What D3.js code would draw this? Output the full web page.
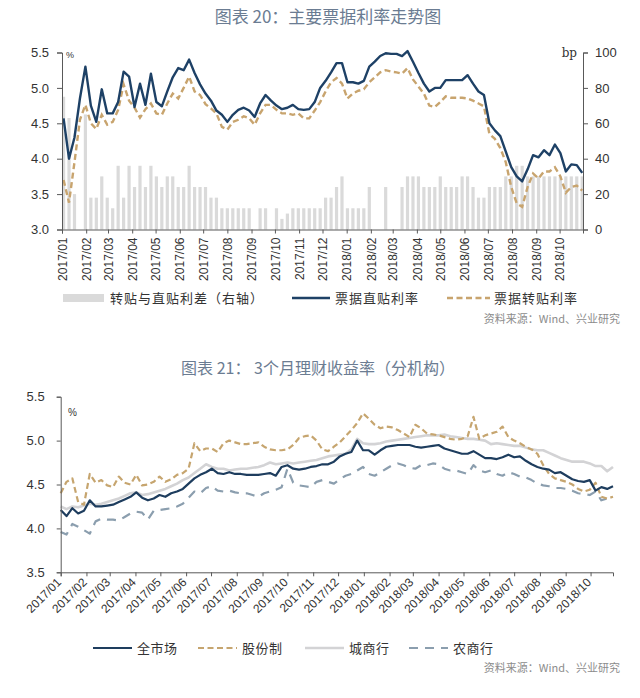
<!DOCTYPE html>
<html><head><meta charset="utf-8">
<script src="https://cdn.jsdelivr.net/npm/d3@7"></script>
<style>body{margin:0;background:#fff}svg{display:block}</style>
</head><body>
<svg id="c" width="640" height="698"></svg>
<script>
// ---------- DATA ----------
const monthLabels = ["2017/01","2017/02","2017/03","2017/04","2017/05","2017/06","2017/07","2017/08","2017/09","2017/10","2017/11","2017/12","2018/01","2018/02","2018/03","2018/04","2018/05","2018/06","2018/07","2018/08","2018/09","2018/10"];

// Chart 1: weekly observations starting 2017-01-03
const start1 = "2017-01-03";
const directRate = [4.57,4.0,4.3,4.85,5.3,4.75,4.52,4.98,4.64,4.64, 4.80,5.23,5.16,4.73,5.06,4.76,5.2,4.80,4.74,4.95, 5.15,5.28,5.25,5.4,5.21,5.05,4.92,4.82,4.68,4.62, 4.52,4.62,4.69,4.72,4.68,4.59,4.78,4.9,4.82,4.75, 4.7,4.72,4.76,4.7,4.69,4.7,4.8,5.0,5.1,5.22, 5.35,5.35,5.08,5.08,5.06,5.1,5.3,5.37,5.45,5.49, 5.48,5.48,5.45,5.52,5.37,5.21,5.06,4.95,5.0,5.0, 5.11,5.11,5.11,5.11,5.18,5.06,4.95,4.9,4.5,4.4, 4.32,4.1,3.88,3.75,3.68,3.85,4.05,4.02,4.12,4.05, 4.2,4.08,3.82,3.92,3.91,3.8];
const rediscRate = [3.7,3.38,3.95,4.55,4.76,4.5,4.42,4.62,4.48,4.52, 4.69,5.05,4.82,4.72,4.58,4.7,4.78,4.64,4.62,4.78, 4.92,4.85,5.0,5.16,4.95,4.9,4.77,4.71,4.64,4.45, 4.41,4.52,4.55,4.6,4.57,4.48,4.64,4.76,4.76,4.69, 4.64,4.64,4.62,4.64,4.57,4.57,4.68,4.8,4.95,5.08, 5.14,5.06,4.85,4.92,4.96,4.98,5.08,5.15,5.22,5.25, 5.23,5.22,5.2,5.28,5.12,5.02,4.92,4.75,4.73,4.8, 4.88,4.86,4.86,4.86,4.85,4.82,4.78,4.74,4.35,4.28, 4.15,3.95,3.6,3.37,3.32,3.6,3.79,3.72,3.82,3.82, 3.88,3.75,3.52,3.6,3.62,3.55];
const spreadBp = [75,63,20,0,65,18,18,30,18,12, 36,18,36,24,36,24,36,30,24,30, 30,24,24,36,24,24,24,18,18,12, 12,12,12,12,12,0,12,12,0,12, 6,9,12,12,12,12,12,12,18,18, 24,30,12,12,12,12,24,0,0,24, 0,0,24,30,30,30,24,24,24,30, 24,24,24,30,30,24,18,18,24,24, 24,30,30,36,36,30,30,30,30,30, 30,30,30,30,30,30];

// Chart 2: weekly observations starting 2017-01-01
const start2 = "2017-01-01";
const allMarket = [4.21,4.14,4.23,4.17,4.2,4.32,4.25,4.25,4.26,4.27, 4.3,4.33,4.36,4.41,4.35,4.32,4.34,4.38,4.36,4.4, 4.42,4.45,4.51,4.57,4.61,4.64,4.68,4.63,4.62,4.64, 4.62,4.62,4.61,4.61,4.61,4.62,4.63,4.6,4.7,4.72, 4.68,4.67,4.68,4.7,4.71,4.73,4.73,4.76,4.82,4.85, 4.87,5.0,4.89,4.89,4.84,4.89,4.93,4.94,4.95,4.95, 4.95,4.93,4.92,4.93,4.94,4.95,4.91,4.89,4.87,4.85, 4.85,4.88,4.84,4.8,4.8,4.79,4.81,4.84,4.81,4.82, 4.77,4.73,4.7,4.68,4.67,4.63,4.64,4.6,4.56,4.54, 4.53,4.55,4.43,4.47,4.45,4.48];
const jointStock = [4.4,4.53,4.57,4.3,4.27,4.62,4.52,4.55,4.49,4.47, 4.59,4.52,4.5,4.61,4.49,4.5,4.53,4.59,4.53,4.56, 4.61,4.63,4.68,4.97,4.88,4.91,4.91,4.87,4.97,5.0, 4.98,4.96,4.96,4.97,4.98,4.93,4.9,4.89,4.89,4.9, 4.95,5.03,5.05,5.06,5.0,4.9,4.88,4.93,4.98,5.05, 5.12,5.2,5.31,5.25,5.18,5.14,5.16,5.15,5.12,5.08, 5.04,5.18,5.14,5.08,5.07,5.06,5.04,5.02,5.01,5.02, 5.05,5.27,5.02,5.06,5.08,5.1,5.16,5.04,5.0,4.97, 4.93,4.9,4.85,4.72,4.62,4.57,4.55,4.53,4.5,4.45, 4.42,4.44,4.52,4.36,4.34,4.36];
const cityBank = [4.25,4.22,4.25,4.24,4.26,4.28,4.27,4.28,4.3,4.32, 4.34,4.37,4.4,4.41,4.38,4.39,4.41,4.43,4.45,4.48, 4.51,4.55,4.58,4.63,4.68,4.73,4.7,4.68,4.68,4.66, 4.67,4.68,4.68,4.69,4.7,4.72,4.75,4.73,4.74,4.75, 4.74,4.75,4.76,4.77,4.78,4.8,4.82,4.83,4.84,4.85, 4.9,5.02,4.97,4.96,4.96,4.97,4.99,5.0,5.01,5.02, 5.03,5.04,5.05,5.06,5.06,5.06,5.07,5.05,5.04,5.03, 5.02,5.02,5.01,5.0,4.96,4.97,4.96,4.95,4.94,4.94, 4.92,4.9,4.89,4.89,4.86,4.83,4.8,4.78,4.76,4.76, 4.76,4.74,4.71,4.71,4.65,4.7];
const ruralBank = [3.96,3.93,4.05,4.02,3.98,3.94,4.08,4.11,4.1,4.1, 4.09,4.13,4.17,4.19,4.18,4.1,4.2,4.21,4.22,4.23, 4.25,4.28,4.35,4.42,4.4,4.46,4.48,4.43,4.42,4.43, 4.41,4.4,4.4,4.38,4.36,4.4,4.42,4.44,4.47,4.68, 4.52,4.49,4.48,4.47,4.53,4.55,4.53,4.51,4.56,4.6, 4.62,4.66,4.7,4.62,4.6,4.64,4.68,4.72,4.74,4.72, 4.69,4.68,4.72,4.72,4.74,4.73,4.68,4.66,4.66,4.64, 4.62,4.72,4.66,4.64,4.66,4.62,4.6,4.64,4.62,4.59, 4.58,4.55,4.51,4.49,4.48,4.46,4.46,4.45,4.43,4.4, 4.39,4.38,4.42,4.32,4.34,4.36];

const yTicks1 = [3.0,3.5,4.0,4.5,5.0,5.5];
const yTicksR = [0,20,40,60,80,100];
const yTicks2 = [3.5,4.0,4.5,5.0,5.5];

// ---------- HELPERS ----------
const parseDay = d3.timeParse("%Y-%m-%d");
const parseMonth = d3.timeParse("%Y/%m");
const fmtMonth = d3.timeFormat("%Y/%m");
const monthDates = monthLabels.map(parseMonth);
const weekly = (s, n) => d3.range(n).map(i => d3.timeDay.offset(parseDay(s), 7 * i));
const dates1 = weekly(start1, directRate.length);
const dates2 = weekly(start2, allMarket.length);

const svg = d3.select("#c");
const LAT = "'Liberation Sans', Arial, sans-serif";
const CJK = "'Noto Sans CJK SC', 'Noto Sans', sans-serif";
const AXC = "#595959";

function styleAxis(g, fs) {
  g.select(".domain").attr("stroke", AXC);
  g.selectAll(".tick line").attr("stroke", AXC);
  g.selectAll("text").attr("fill", "#333").style("font-family", LAT).style("font-size", fs + "px");
}

// ---------- CHART 1 ----------
svg.append("text").attr("x", 328).attr("y", 23).attr("text-anchor", "middle")
  .style("font-family", CJK).style("font-size", "17px").attr("fill", "#6b7c92")
  .text("图表 20：主要票据利率走势图");

const x1 = d3.scaleTime().domain([parseDay("2017-01-01"), parseDay("2018-10-31")]).range([62, 583]);
const y1 = d3.scaleLinear().domain([3.0, 5.5]).range([229.5, 52.5]);
const yR = d3.scaleLinear().domain([0, 100]).range([229.5, 52.5]);

// bars
svg.append("g").selectAll("rect").data(spreadBp.map((v, i) => ({d: dates1[i], v})).filter(o => o.v > 0))
  .join("rect")
  .attr("x", o => x1(o.d) - 1.6).attr("width", 3.2)
  .attr("y", o => yR(o.v)).attr("height", o => yR(0) - yR(o.v))
  .attr("fill", "#dadada");

const line1 = d3.line().x((v, i) => x1(dates1[i])).y(v => y1(v));
svg.append("path").datum(rediscRate).attr("d", line1).attr("fill", "none")
  .attr("stroke", "#c8a46e").attr("stroke-width", 2.4).attr("stroke-dasharray", "6,3.5");
svg.append("path").datum(directRate).attr("d", line1).attr("fill", "none")
  .attr("stroke", "#1e4166").attr("stroke-width", 2.4).attr("stroke-linejoin", "round");

// axes
const gx1 = svg.append("g").attr("transform", "translate(0,229.5)")
  .call(d3.axisBottom(x1).tickValues(monthDates).tickFormat(fmtMonth).tickSize(4));
styleAxis(gx1, 12);
gx1.selectAll("text").attr("transform", "rotate(-90)").attr("text-anchor", "end")
  .attr("x", -8).attr("y", 0).attr("dy", "0.35em");

const gy1 = svg.append("g").attr("transform", "translate(62,0)")
  .call(d3.axisLeft(y1).tickValues(yTicks1).tickFormat(d3.format(".1f")).tickSize(5).tickPadding(8));
styleAxis(gy1, 13);
const gyR = svg.append("g").attr("transform", "translate(583,0)")
  .call(d3.axisRight(yR).tickValues(yTicksR).tickSize(5).tickPadding(7));
styleAxis(gyR, 13);

svg.append("text").attr("x", 66).attr("y", 58).style("font-family", LAT).style("font-size", "9px").attr("fill", "#333").text("%");
svg.append("text").attr("x", 577).attr("y", 57).attr("text-anchor", "end").style("font-family", "'DejaVu Serif', serif").style("font-size", "12px").attr("fill", "#333").text("bp");

// legend 1
const lg1 = svg.append("g").style("font-family", CJK).style("font-size", "13px").attr("fill", "#333");
lg1.append("rect").attr("x", 63).attr("y", 294).attr("width", 41).attr("height", 8).attr("fill", "#dadada");
lg1.append("text").attr("x", 110).attr("y", 303).style("letter-spacing", "1px").text("转贴与直贴利差（右轴）");
lg1.append("line").attr("x1", 292).attr("x2", 330).attr("y1", 298).attr("y2", 298).attr("stroke", "#1e4166").attr("stroke-width", 2.4);
lg1.append("text").attr("x", 335).attr("y", 303).style("letter-spacing", "1px").text("票据直贴利率");
lg1.append("line").attr("x1", 447).attr("x2", 490).attr("y1", 298).attr("y2", 298).attr("stroke", "#c8a46e").attr("stroke-width", 2.4).attr("stroke-dasharray", "6,3.5");
lg1.append("text").attr("x", 494).attr("y", 303).style("letter-spacing", "1px").text("票据转贴利率");

svg.append("text").attr("x", 620).attr("y", 323).attr("text-anchor", "end")
  .style("font-family", CJK).style("font-size", "11px").attr("fill", "#8c8c8c").text("资料来源：Wind、兴业研究");

// ---------- CHART 2 ----------
svg.append("text").attr("x", 318).attr("y", 374).attr("text-anchor", "middle")
  .style("font-family", CJK).style("font-size", "16px").attr("fill", "#6b7c92")
  .text("图表 21： 3个月理财收益率（分机构）");

const x2 = d3.scaleTime().domain([parseDay("2017-01-01"), parseDay("2018-10-28")]).range([60.7, 613]);
const y2 = d3.scaleLinear().domain([3.5, 5.5]).range([572.3, 396.7]);
const line2 = d3.line().x((v, i) => x2(dates2[i])).y(v => y2(v));

const series2 = [
  {name: "城商行", data: cityBank, color: "#d3d3d5", width: 2.6, dash: null},
  {name: "农商行", data: ruralBank, color: "#8b9eae", width: 2.2, dash: "9,7"},
  {name: "股份制", data: jointStock, color: "#c6a56f", width: 2.2, dash: "6,3.5"},
  {name: "全市场", data: allMarket, color: "#1e3d5e", width: 2.2, dash: null}
];
series2.forEach(s => {
  svg.append("path").datum(s.data).attr("d", line2).attr("fill", "none")
    .attr("stroke", s.color).attr("stroke-width", s.width).attr("stroke-linejoin", "round")
    .attr("stroke-dasharray", s.dash);
});

const gx2 = svg.append("g").attr("transform", "translate(0,572.3)")
  .call(d3.axisBottom(x2).tickValues(monthDates).tickFormat(fmtMonth).tickSize(4));
styleAxis(gx2, 12);
gx2.selectAll("text").attr("transform", "rotate(-45)").attr("text-anchor", "end")
  .attr("x", -7).attr("y", 4).attr("dy", "0.35em");

const gy2 = svg.append("g").attr("transform", "translate(60.7,0)")
  .call(d3.axisLeft(y2).tickValues(yTicks2).tickFormat(d3.format(".1f")).tickSize(4).tickPadding(12));
styleAxis(gy2, 13);

svg.append("text").attr("x", 68).attr("y", 416).style("font-family", LAT).style("font-size", "10px").attr("fill", "#333").text("%");

// legend 2
const lg2 = svg.append("g").style("font-family", CJK).style("font-size", "13px").attr("fill", "#333");
const leg2 = [
  {s: series2[3], x: 93},
  {s: series2[2], x: 198},
  {s: series2[0], x: 305},
  {s: series2[1], x: 409}
];
leg2.forEach(o => {
  lg2.append("line").attr("x1", o.x).attr("x2", o.x + 39).attr("y1", 648).attr("y2", 648)
    .attr("stroke", o.s.color).attr("stroke-width", o.s.width).attr("stroke-dasharray", o.s.dash);
  lg2.append("text").attr("x", o.x + 44).attr("y", 653).style("letter-spacing", "0.5px").text(o.s.name);
});

svg.append("text").attr("x", 620).attr("y", 672).attr("text-anchor", "end")
  .style("font-family", CJK).style("font-size", "11px").attr("fill", "#8c8c8c").text("资料来源：Wind、兴业研究");
</script></body></html>
